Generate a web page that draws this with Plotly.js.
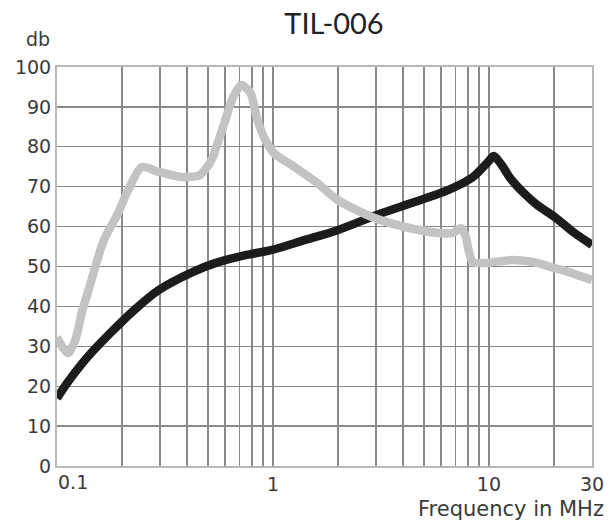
<!DOCTYPE html>
<html>
<head>
<meta charset="utf-8">
<script src="https://cdn.plot.ly/plotly-3.0.1.min.js"></script>
<style>html,body{margin:0;padding:0;background:#fff;}#chart{width:614px;height:525px;}</style>
</head>
<body>
<div id="chart"></div>
<script>
// Black curve (frequency in MHz, level in db)
const blackFreq = [0.1, 0.1115, 0.1385, 0.178, 0.228, 0.296, 0.424, 0.544, 0.754, 0.979, 1.396, 1.99, 3.2, 4.56, 6.5, 8.42, 9.9, 10.52, 11.4, 12.6, 14.5, 16.64, 20.4, 24.6, 30];
const blackDb   = [17, 20.8, 27.3, 33.5, 39.1, 44.1, 48.6, 50.9, 52.9, 54.1, 56.6, 59.1, 63.4, 66.2, 69.2, 72.4, 76.2, 77.7, 75.6, 72.0, 68.4, 65.5, 62.2, 58.6, 55.4];

// Grey curve
const greyFreq = [0.1, 0.1067, 0.1127, 0.1216, 0.1312, 0.140, 0.1648, 0.1919, 0.2138, 0.2464, 0.296, 0.3804, 0.4575, 0.51, 0.5266, 0.5877, 0.6546, 0.714, 0.787, 0.840, 0.907, 1.011, 1.254, 1.605, 1.99, 2.87, 4.09, 5.84, 6.79, 7.40, 7.81, 8.06, 8.42, 9.68, 12.77, 16.64, 19.2, 23.4, 30];
const greyDb   = [32.3, 29.6, 28.3, 31.6, 39.1, 44.1, 56.6, 63.4, 69.2, 74.9, 73.7, 72.4, 72.9, 75.9, 77.4, 85, 92.5, 95.5, 93.5, 87.5, 82.5, 78.4, 75, 70.9, 66.7, 62.4, 59.9, 58.4, 58.4, 59.6, 57.5, 54, 51.1, 50.9, 51.6, 50.9, 49.9, 48.6, 46.6];

// Axis ticks (the 0.1 label is drawn as an annotation, slightly right of its grid line, as in the source)
const xTickVals = [0.1,0.2,0.3,0.4,0.5,0.6,0.7,0.8,0.9,1,2,3,4,5,6,7,8,9,10,20,30];
const xTickText = ['','','','','','','','','','1','','','','','','','','','10','','30'];
const firstXLabel = '0.1';
const firstXValue = 0.1;
const yTickVals = [0,10,20,30,40,50,60,70,80,90,100];
const yTickText = ['0','10','20','30','40','50','60','70','80','90','100'];

const tickFont = {family: 'DejaVu Sans, sans-serif', size: 19, color: '#3a3a3a'};

const traces = [
  {x: blackFreq, y: blackDb, type: 'scatter', mode: 'lines',
   line: {color: '#1c1c1c', width: 8.5, shape: 'spline', smoothing: 0.8}, hoverinfo: 'skip'},
  {x: greyFreq, y: greyDb, type: 'scatter', mode: 'lines',
   line: {color: '#c3c3c3', width: 8.5, shape: 'spline', smoothing: 0.7}, hoverinfo: 'skip'}
];

const layout = {
  width: 614, height: 525,
  margin: {l: 57, r: 22, t: 67, b: 59},
  paper_bgcolor: '#ffffff', plot_bgcolor: '#ffffff',
  showlegend: false,
  title: {text: 'TIL-006', font: {family: 'Lato, sans-serif', size: 29, color: '#222222'},
          xref: 'container', x: 0.544, xanchor: 'center', yref: 'container', y: 0.955, yanchor: 'middle'},
  xaxis: {type: 'log', range: [-1, Math.log10(30)], tickmode: 'array', tickvals: xTickVals, ticktext: xTickText,
          showgrid: true, gridcolor: '#8a8a8a', gridwidth: 1.3, showline: true, mirror: true,
          linecolor: '#b8b8b8', linewidth: 2, ticks: '', tickfont: tickFont, zeroline: false, fixedrange: true},
  yaxis: {range: [0, 100], tickmode: 'array', tickvals: yTickVals, ticktext: yTickText,
          showgrid: true, gridcolor: '#8a8a8a', gridwidth: 1.3, showline: true, mirror: true,
          linecolor: '#b8b8b8', linewidth: 2, ticks: '', tickfont: tickFont, zeroline: false, fixedrange: true},
  annotations: [
    {text: firstXLabel, xref: 'x', yref: 'paper', x: Math.log10(firstXValue), y: 0, xanchor: 'left', yanchor: 'top',
     xshift: -1, yshift: -3, showarrow: false, font: tickFont},
    {text: 'db', xref: 'paper', yref: 'paper', x: 0, y: 1, xanchor: 'right', yanchor: 'middle',
     xshift: -5, yshift: 28, showarrow: false, font: tickFont},
    {text: 'Frequency in MHz', xref: 'paper', yref: 'paper', x: 1, y: 0, xanchor: 'right', yanchor: 'middle',
     xshift: 14, yshift: -43, showarrow: false, font: {family: 'DejaVu Sans, sans-serif', size: 21, color: '#3a3a3a'}}
  ]
};

Plotly.newPlot('chart', traces, layout, {displayModeBar: false, staticPlot: true});
</script>
</body>
</html>
